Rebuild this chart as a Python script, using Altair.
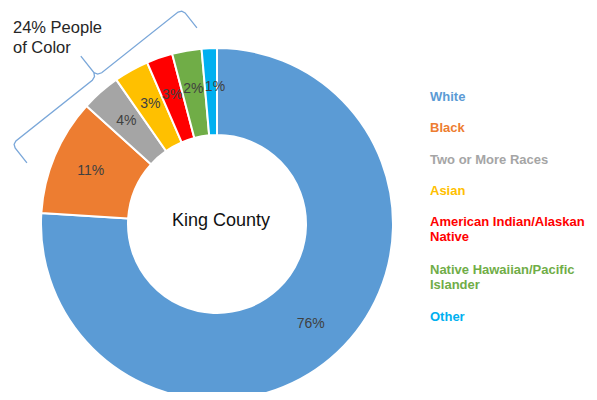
import altair as alt
import pandas as pd
import numpy as np

# ---------------- data ----------------
categories = ["White", "Black", "Two or More Races", "Asian",
              "American Indian/Alaskan Native", "Native Hawaiian/Pacific Islander", "Other"]
shares = [76.0, 10.7, 3.6, 3.2, 2.4, 2.7, 1.4]
pct_labels = ["76%", "11%", "4%", "3%", "3%", "2%", "1%"]
legend_lines = [["White"], ["Black"], ["Two or More Races"], ["Asian"],
                ["American Indian/Alaskan", "Native"],
                ["Native Hawaiian/Pacific", "Islander"], ["Other"]]
colors = ["#5B9BD5", "#ED7D31", "#A5A5A5", "#FFC000", "#FF0000", "#70AD47", "#00B0F0"]
center_title = "King County"
annotation_lines = ["24% People", "of Color"]

# ---------------- layout (chart pixel space) ----------------
W, H = 581, 384
CX, CY = 209, 215
R_OUT, R_IN = 176, 89
LABEL_R = 137
FONT = "Liberation Sans"

df = pd.DataFrame({
    "category": categories,
    "share": shares,
    "label": pct_labels,
    "order": list(range(len(categories))),
})
TOTAL = float(sum(shares))

xs = alt.Scale(domain=[0, W], range=[0, W])
ys = alt.Scale(domain=[0, H], range=[0, H])
ts = alt.Scale(domain=[0, TOTAL])

arcs = alt.Chart(df).mark_arc(
    outerRadius=R_OUT, innerRadius=R_IN, stroke="white", strokeWidth=2
).encode(
    theta=alt.Theta("share:Q", stack=True, scale=ts),
    color=alt.Color("category:N", scale=alt.Scale(domain=categories, range=colors), legend=None),
    order=alt.Order("order:Q"),
    x=alt.value(CX), y=alt.value(CY),
)

# label positions at the middle of each slice (cumulative share)
lab_base = alt.Chart(df).transform_window(
    cum="sum(share)", sort=[alt.SortField("order", order="ascending")], frame=[None, 0]
).transform_calculate(mid="datum.cum - datum.share / 2")

def pct_layer(filter_expr, dx=0):
    return lab_base.transform_filter(filter_expr).mark_text(
        radius=LABEL_R, fontSize=14, font=FONT, color="#404040", dx=dx
    ).encode(
        theta=alt.Theta("mid:Q", stack=False, scale=ts),
        text="label:N",
        x=alt.value(CX), y=alt.value(CY),
    )

pct_main = pct_layer("datum.category != 'Other'")
pct_other = pct_layer("datum.category == 'Other'", dx=4)

center = alt.Chart(pd.DataFrame({"t": [center_title]})).mark_text(
    fontSize=18, font=FONT, color="#111111", baseline="alphabetic", align="center"
).encode(text="t:N", x=alt.value(213), y=alt.value(217))

# legend rows: baseline positions from row index and extra lines above
ROW0, ROW_GAP, EXTRA = 92, 31.3, 16
leg_y, extra = [], 0
for i, lines in enumerate(legend_lines):
    leg_y.append(ROW0 + i * ROW_GAP + extra * EXTRA)
    extra += len(lines) - 1
leg_df = pd.DataFrame({
    "category": categories,
    "lines": legend_lines,
    "px": [422] * len(categories),
    "py": leg_y,
})
legend = alt.Chart(leg_df).mark_text(
    fontSize=13, font=FONT, fontWeight="bold", align="left", baseline="alphabetic", lineHeight=15
).encode(
    x=alt.X("px:Q", scale=xs, axis=None),
    y=alt.Y("py:Q", scale=ys, axis=None),
    text="lines",
    color=alt.Color("category:N", scale=alt.Scale(domain=categories, range=colors), legend=None),
)

annot = alt.Chart(pd.DataFrame({"lines": [annotation_lines], "px": [5], "py": [24]})).mark_text(
    fontSize=16.5, font=FONT, color="#262626", align="left", baseline="alphabetic", lineHeight=20
).encode(
    x=alt.X("px:Q", scale=xs, axis=None),
    y=alt.Y("py:Q", scale=ys, axis=None),
    text="lines",
)

# curly brace over the "people of color" slices
A = np.array([12.0, 143.0]) - 8
B = np.array([182.0, 8.0]) - 8
L = np.linalg.norm(B - A)
u = (B - A) / L
n = np.array([u[1], -u[0]])  # outward (up-left)
if np.dot(n, (A + B) / 2 - np.array([CX, CY])) < 0:
    n = -n
m = L / 2
ctrl = [(0, -24), (0, -5), (1.5, -1.5), (5, 0), (m - 6, 0), (m - 2, 1.5), (m, 5), (m, 26),
        (m, 5), (m + 2, 1.5), (m + 6, 0), (L - 5, 0), (L - 1.5, -1.5), (L, -5), (L, -24)]
pts = [A + s * u + o * n for s, o in ctrl]
brace_df = pd.DataFrame({"px": [p[0] for p in pts], "py": [p[1] for p in pts],
                         "k": list(range(len(pts)))})
brace = alt.Chart(brace_df).mark_line(color="#7AA7D9", strokeWidth=1.3).encode(
    x=alt.X("px:Q", scale=xs, axis=None),
    y=alt.Y("py:Q", scale=ys, axis=None),
    order="k:Q",
)

chart = alt.layer(arcs, pct_main, pct_other, center, legend, annot, brace).properties(
    width=W, height=H, padding=0,
    autosize=alt.AutoSizeParams(type="fit", contains="padding"),
).configure_view(stroke=None)

chart.save("out.html", embed_options={"renderer": "svg", "actions": False})
